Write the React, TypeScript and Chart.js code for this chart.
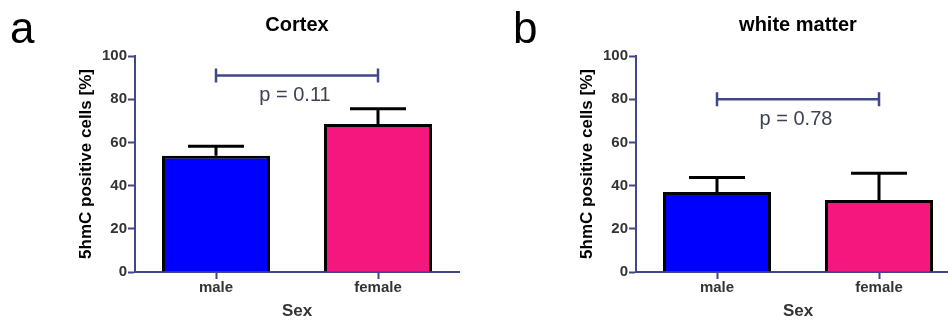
import React, { useEffect, useRef } from 'react';
import { Chart, registerables } from 'chart.js';

Chart.register(...registerables);

// ---- data ----
const categories = ['male', 'female'];
const cortexMeans = [53.8, 68.5];
const cortexErrors = [4.4, 7.1];
const whiteMatterMeans = [37.0, 33.3];
const whiteMatterErrors = [6.8, 12.4];
const panelLetters = ['a', 'b'];
const panelTitles = ['Cortex', 'white matter'];
const pLabels = ['p = 0.11', 'p = 0.78'];
const bracketLevels = [91, 80];
const yAxisTitle = '5hmC positive cells [%]';
const xAxisTitle = 'Sex';
const yMin = 0;
const yMax = 100;
const yStep = 20;

// ---- styles ----
const barColors = ['#0000ff', '#f5167e'];
const axisColor = '#414889';
const tickColor = '#333333';
const FONT = '"Liberation Sans", Arial, Helvetica, sans-serif';

const annotatePlugin = {
  id: 'annotate',
  afterDatasetsDraw(chart: any, _args: any, opts: any) {
    const ctx = chart.ctx as CanvasRenderingContext2D;
    const meta = chart.getDatasetMeta(0);
    const yScale = chart.scales.y;
    const xScale = chart.scales.x;
    ctx.save();
    // error bars (upper only)
    ctx.strokeStyle = '#000000';
    ctx.lineWidth = 3;
    ctx.lineCap = 'butt';
    meta.data.forEach((bar: any, i: number) => {
      const x = bar.x;
      const yBar = yScale.getPixelForValue(opts.means[i]);
      const yTop = yScale.getPixelForValue(opts.means[i] + opts.errors[i]);
      ctx.beginPath();
      ctx.moveTo(x, yBar);
      ctx.lineTo(x, yTop);
      ctx.moveTo(x - 28, yTop);
      ctx.lineTo(x + 28, yTop);
      ctx.stroke();
    });
    // significance bracket
    const x0 = xScale.getPixelForValue(0);
    const x1 = xScale.getPixelForValue(1);
    const yb = yScale.getPixelForValue(opts.bracket);
    ctx.strokeStyle = axisColor;
    ctx.lineWidth = 2.5;
    ctx.beginPath();
    ctx.moveTo(x0, yb);
    ctx.lineTo(x1, yb);
    ctx.moveTo(x0, yb - 7);
    ctx.lineTo(x0, yb + 7);
    ctx.moveTo(x1, yb - 7);
    ctx.lineTo(x1, yb + 7);
    ctx.stroke();
    ctx.fillStyle = '#3c4252';
    ctx.font = `20px ${FONT}`;
    ctx.textAlign = 'center';
    ctx.textBaseline = 'middle';
    ctx.fillText(opts.pText, (x0 + x1) / 2 - 2, yb + 20);
    // panel letter
    ctx.fillStyle = '#000000';
    ctx.font = `44px ${FONT}`;
    ctx.textAlign = 'left';
    ctx.textBaseline = 'alphabetic';
    ctx.fillText(opts.letter, opts.letterX, 43);
    ctx.restore();
  },
};

type PanelProps = {
  left: number;
  width: number;
  yWidth: number;
  padRight: number;
  yTitlePad: number;
  means: number[];
  errors: number[];
  title: string;
  letter: string;
  letterX: number;
  pText: string;
  bracket: number;
};

function Panel(p: PanelProps) {
  const ref = useRef<HTMLCanvasElement>(null);
  useEffect(() => {
    const chart = new Chart(ref.current as HTMLCanvasElement, {
      type: 'bar',
      data: {
        labels: categories,
        datasets: [
          {
            data: p.means,
            backgroundColor: barColors,
            borderColor: '#000000',
            borderWidth: 3,
            borderSkipped: 'start',
            categoryPercentage: 1,
            barPercentage: 0.667,
          },
        ],
      },
      options: {
        animation: false,
        responsive: false,
        maintainAspectRatio: false,
        devicePixelRatio: 1,
        layout: { padding: { left: 0, right: p.padRight, top: 0, bottom: 0 } },
        plugins: {
          legend: { display: false },
          tooltip: { enabled: false },
          title: {
            display: true,
            text: p.title,
            fullSize: false,
            color: '#000000',
            font: { family: FONT, size: 20, weight: 'bold' },
            padding: { top: 13, bottom: 19 },
          },
          annotate: {
            means: p.means,
            errors: p.errors,
            bracket: p.bracket,
            pText: p.pText,
            letter: p.letter,
            letterX: p.letterX,
          },
        } as any,
        scales: {
          x: {
            offset: true,
            z: 1,
            grid: {
              offset: false,
              drawOnChartArea: false,
              drawTicks: true,
              tickLength: 7,
              tickColor: axisColor,
              tickWidth: 2,
              color: axisColor,
            },
            border: { display: true, color: axisColor, width: 2 },
            ticks: { color: tickColor, padding: 0, font: { family: FONT, size: 15, weight: 'bold' } },
            title: {
              display: true,
              text: xAxisTitle,
              color: tickColor,
              font: { family: FONT, size: 17, weight: 'bold' },
              padding: { top: 0, bottom: 0 },
            },
            afterFit: (s: any) => {
              s.height = 50;
            },
          },
          y: {
            min: yMin,
            max: yMax,
            z: 1,
            grid: {
              drawOnChartArea: false,
              drawTicks: true,
              tickLength: 7,
              tickColor: axisColor,
              tickWidth: 2,
              color: axisColor,
            },
            border: { display: true, color: axisColor, width: 2 },
            ticks: {
              stepSize: yStep,
              color: tickColor,
              padding: 1,
              font: { family: FONT, size: 15, weight: 'bold' },
            },
            title: {
              display: true,
              text: yAxisTitle,
              color: '#000000',
              font: { family: FONT, size: 17, weight: 'bold' },
              padding: { top: p.yTitlePad, bottom: 0 },
            },
            afterFit: (s: any) => {
              s.width = p.yWidth;
            },
          },
        } as any,
      },
      plugins: [annotatePlugin],
    } as any);
    return () => chart.destroy();
  }, []);
  return (
    <canvas
      ref={ref}
      width={p.width}
      height={322}
      style={{ position: 'absolute', left: p.left, top: 0, width: p.width, height: 322 }}
    />
  );
}

export default function App() {
  return (
    <div
      style={{
        position: 'fixed',
        left: 0,
        top: 0,
        width: 948,
        height: 322,
        overflow: 'hidden',
        background: '#ffffff',
      }}
    >
      <Panel
        left={0}
        width={474}
        yWidth={135}
        padRight={15}
        yTitlePad={76}
        means={cortexMeans}
        errors={cortexErrors}
        title={panelTitles[0]}
        letter={panelLetters[0]}
        letterX={10}
        pText={pLabels[0]}
        bracket={bracketLevels[0]}
      />
      <Panel
        left={474}
        width={500}
        yWidth={162}
        padRight={14}
        yTitlePad={103}
        means={whiteMatterMeans}
        errors={whiteMatterErrors}
        title={panelTitles[1]}
        letter={panelLetters[1]}
        letterX={39}
        pText={pLabels[1]}
        bracket={bracketLevels[1]}
      />
    </div>
  );
}
